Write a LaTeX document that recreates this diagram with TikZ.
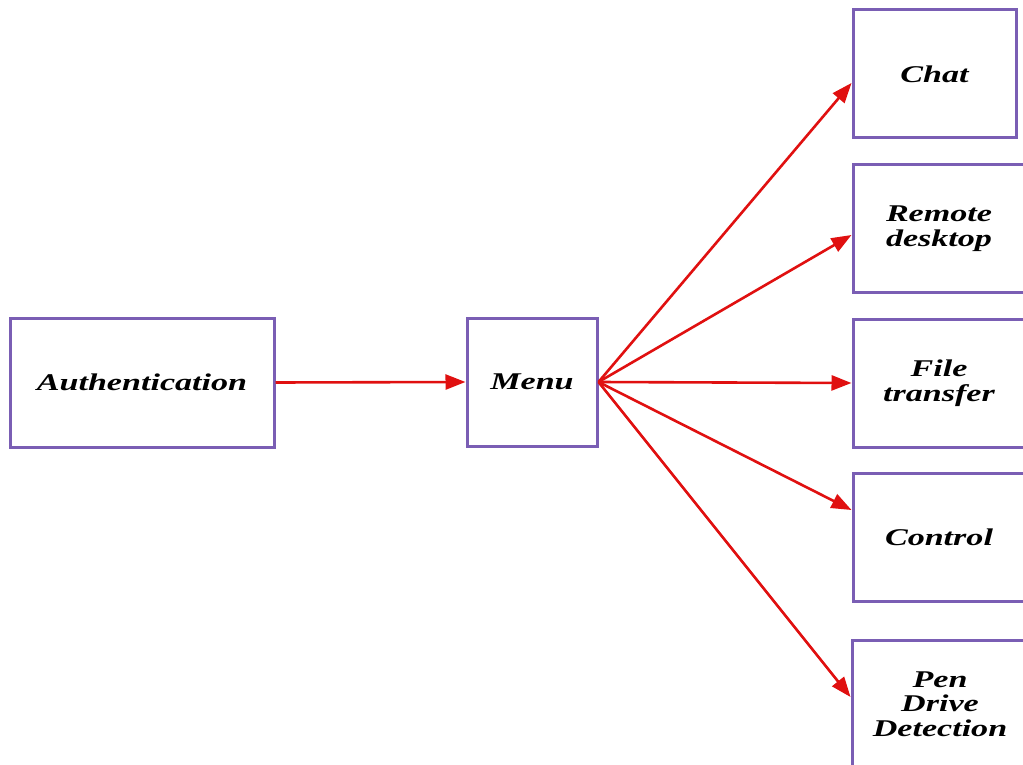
\documentclass[tikz,border=0pt]{standalone}
\usepackage{fontspec}
\setmainfont{Liberation Serif}[FakeStretch=1.42]
\usetikzlibrary{arrows.meta}
\definecolor{boxline}{HTML}{7A5EB4}
\definecolor{arrowred}{HTML}{E01010}
\begin{document}
\begin{tikzpicture}[x=1pt,y=-1pt,
  box/.style={draw=boxline, line width=3pt, fill=white, inner sep=0pt,
    align=center, font=\fontsize{24}{24.5}\selectfont\bfseries\itshape},
  link/.style={draw=arrowred, line width=2.6pt,
    -{Triangle[length=20pt,width=15pt]}}]
  \useasboundingbox (0,0) rectangle (1023,765);
  \clip (0,0) rectangle (1023,765);
  % left part of the flow
  \node[box, minimum width=264pt, minimum height=129pt] (auth) at (142,382.5) {Authentication};
  \node[box, minimum width=130pt, minimum height=128pt] (menu) at (532,382) {Menu};
  % menu entries
  \node[box, minimum width=163pt, minimum height=128pt] (chat) at (934.5,74) {Chat};
  \node[box, minimum width=172pt, minimum height=127pt] (remote) at (939,228.5) {Remote\\desktop};
  \node[box, minimum width=172pt, minimum height=128pt] (file) at (939,383) {File\\transfer};
  \node[box, minimum width=172pt, minimum height=128pt] (control) at (939,537) {Control};
  \node[box, minimum width=176pt, minimum height=128pt] (pen) at (940,704) {Pen\\Drive\\Detection};
  % connectors
  \draw[link] (auth.east) -- (menu.west);
  \draw[link] (menu.east) -- ([yshift=-9pt]chat.west);
  \draw[link] (menu.east) -- ([yshift=-6.5pt]remote.west);
  \draw[link] (menu.east) -- (file.west);
  \draw[link] (menu.east) -- ([yshift=27pt]control.west);
  \draw[link] (menu.east) -- ([yshift=7pt]pen.west);
\end{tikzpicture}
\end{document}
